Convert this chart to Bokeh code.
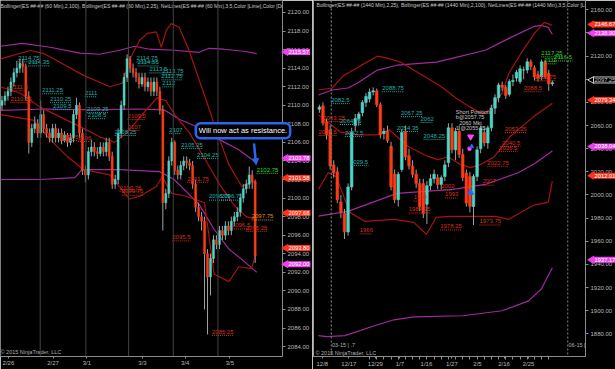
import math
from bokeh.plotting import figure
from bokeh.layouts import row
from bokeh.models import (ColumnDataSource, FixedTicker, Label, Span, Range1d,
                          PrintfTickFormatter, Arrow, NormalHead)
from bokeh.embed import file_html
from bokeh.resources import INLINE
from bokeh.core.properties import value

# ---------------- data: left panel (60 min bars) ----------------
L_OPEN = [2110,2110.5,2111,2111.5,2112.5,2113.5,2114,2114.5,2114.2,2111,
          2106,2107.5,2108,2107,2109,2107.5,2107,2106.5,2107.5,2106.5,
          2107,2106.2,2106.8,2106,2106.5,2109,2110,2107,2103,2102.5,
          2105,2105.5,2105,2104.8,2105.5,2105,2106,2104.5,2101.5,2102,
          2107,2110,2113,2115,2114,2113.5,2113,2112.3,2113,2112,
          2112.5,2111.5,2112.5,2111.5,2109.5,2099.5,2100.5,2104,2106,2103,
          2102.5,2103.5,2104,2103.8,2103.5,2101.5,2099,2098,2097.5,2094,
          2091.5,2093.5,2095.5,2095,2096.5,2096,2097,2096.5,2097.5,2098,
          2098.5,2100,2101,2101.5,2102.5,2101.8]
L_HIGH = [2111,2111.5,2112,2113,2114,2114.8,2115,2115,2114.5,2111.5,
          2108,2108.8,2108.5,2110.5,2109.5,2108,2107.5,2108,2108,2107.5,
          2107.5,2107.2,2107,2107,2109.5,2110.8,2110.3,2107.5,2103.5,2105.5,
          2106.3,2106,2105.5,2106,2106,2106.5,2106.5,2105,2102.5,2107.5,
          2110.5,2113.5,2115.5,2115.3,2114.5,2114,2113.5,2113.5,2113.5,2113,
          2113,2113,2113,2112,2110,2101,2104.5,2106.5,2106.2,2103.5,
          2104,2104.5,2104.5,2104.2,2104,2102,2099.5,2098.5,2098,2094.5,
          2094,2096,2096,2097,2097,2097.5,2097.5,2098,2098.5,2099,
          2100.5,2101.5,2102,2103.4,2103,2102]
L_LOW = [2109.5,2110,2110.5,2111,2112,2113,2113.5,2113.5,2110.5,2104.8,
         2105.5,2107,2106.5,2106.5,2107,2106.5,2106,2106,2106,2106,
         2105.8,2106,2105.5,2105.7,2106,2108.5,2106.5,2102.5,2101.7,2102,
         2104.5,2104.5,2104.2,2104.5,2104.5,2104.5,2104,2101,2101,2101.5,
         2106.5,2109.5,2112.5,2113.5,2113,2112.5,2111.8,2112,2111.5,2111.5,
         2111,2111,2111,2109,2096.5,2098.8,2100,2103.5,2102.5,2102,
         2102,2103,2103.2,2103,2101,2098.5,2097.5,2096.5,2088,2085.3,
         2089.5,2093,2094.5,2094.5,2095.5,2095.5,2096,2096,2097,2097.5,
         2098,2099.5,2100.5,2101,2101,2093]
L_CLOSE = [2110.5,2111,2111.5,2112.5,2113.5,2114,2114.5,2114.2,2111,2106,
           2107.5,2108,2107,2109,2107.5,2107,2106.5,2107.5,2106.5,2107,
           2106.2,2106.8,2106,2106.5,2109,2110,2107,2103,2102.5,2105,
           2105.5,2105,2104.8,2105.5,2105,2106,2104.5,2101.5,2102,2107,
           2110,2113,2115,2114,2113.5,2113,2112.3,2113,2112,2112.5,
           2111.5,2112.5,2111.5,2109.5,2099.5,2100.5,2104,2106,2103,2102.5,
           2103.5,2104,2103.8,2103.5,2101.5,2099,2098,2097.5,2094,2091.5,
           2093.5,2095.5,2095,2096.5,2096,2097,2096.5,2097.5,2098,2098.5,
           2100,2101,2101.5,2102.5,2101.8,2093.8]

L_BB100_UP_X = [-0.5,6.83,16.17,26.17,32.83,39.5,44.5,49.5,57.83,66.17,69.5,74.5,81.17,85.5]
L_BB100_UP_Y = [2116.36,2116.68,2116.25,2115.61,2115.5,2115.93,2116.36,2116.04,2115.93,2115.71,2116.14,2116.04,2115.82,2115.57]
L_BB100_MID_X = [-0.5,15,30,45,54.5,59.5,66,73,79.5,85.5]
L_BB100_MID_Y = [2109.45,2109.6,2109.5,2109.6,2109.5,2108.5,2107.6,2106.3,2105.2,2103.78]
L_BB100_LO_X = [-0.5,12.8,24.5,26.8,39.5,52.8,57.8,66.2,71.2,76.2,81.2,85.5]
L_BB100_LO_Y = [2102.0,2102.0,2102.2,2103.07,2103.07,2102.86,2102.0,2099.32,2096.64,2094.5,2093.21,2092.0]

L_BB25_UP_X = [-0.5,9.5,13.8,16.2,27.2,36.2,40.5,42.8,46.2,48.8,51.8,53.5,55.2,56.8,59.5,62.8,68.5,71.8,76.2,80.5,83.8,85.5]
L_BB25_UP_Y = [2115.0,2115.9,2115.6,2115.2,2113.25,2112.0,2112.4,2114.9,2117.0,2117.75,2117.9,2116.25,2118.1,2118.8,2118.4,2115.9,2110.6,2107.4,2103.6,2101.25,2101.8,2101.58]
L_BB25_MID_X = [-0.5,6.2,12.8,19.5,26.2,32.8,37.8,41.8,46,52,55,58,63,68.5,73,78,82,85.5]
L_BB25_MID_Y = [2112.0,2111.3,2109.8,2108.75,2107.7,2106.6,2106.0,2107.0,2108.6,2110.8,2110.5,2109.0,2107.0,2104.0,2101.5,2099.2,2098.0,2097.68]
L_BB25_LO_X = [-0.5,10.5,16.2,21.8,27.2,36.2,42.8,46.2,51.8,53.8,57,61.8,68,71.2,76.2,79.5,83.8,85,85.5]
L_BB25_LO_Y = [2109.0,2108.4,2106.3,2104.5,2103.1,2102.5,2099.9,2100.2,2101.25,2102.3,2100.5,2100.2,2099.5,2091.8,2091.0,2092.6,2092.4,2093.8,2093.8]

L_SESSIONS = [12.83, 28.17, 42.5, 57.5, 72.5]
L_DATE_POS = [2.17, 17.17, 28.5, 47.17, 61.5, 76.5]
L_DATE_LBL = ["2/26", "2/27", "3/1", "3/3", "3/4", "3/5"]

L_TEAL_T = ["2114.75","2114.35","2111.25","2111","2110.25","2109.5","2109.25","2108.5",
            "2114.75","2114.55","2113.5","2113.75","2112.75","2112","2107","2105.25",
            "2104.25","2108.25","2098.75","2096.75"]
L_TEAL_X = [5.5,8.83,13.5,27.83,16.17,17.17,28.5,28.83,45.17,45.5,49.5,53.83,53.5,53.83,
            56.17,60.17,65.5,37.83,69.5,73.5]
L_TEAL_Y = [2115.07,2114.64,2111.64,2111.32,2110.68,2109.93,2109.61,2108.96,2115.07,2114.64,
            2113.89,2113.68,2113.14,2112.39,2107.36,2105.75,2104.68,2107.14,2100.18,2100.18]
L_RED_T = ["2111.5","2110.25","2109.5","2106.5","2106","2107","2101.75","2100.75","2099.75",
           "2095.5","2096.5","2095.25","2085.25"]
L_RED_X = [2.83,2.83,42.17,19.5,25.5,42.17,62.17,39.5,40.17,57.17,77.17,81.83,70.5]
L_RED_Y = [2111.96,2110.68,2108.86,2106.61,2106.5,2107.68,2102.11,2101.14,2100.71,2095.79,
           2097.07,2096.82,2085.61]
L_ORANGE_T = ["2097.75"]; L_ORANGE_X = [83.83]; L_ORANGE_Y = [2098.04]
L_GREEN_T = ["2102.75"]; L_GREEN_X = [85.5]; L_GREEN_Y = [2103.07]

# ---------------- data: right panel (1440 min bars) ----------------
R_OPEN = [2074,2077,2063,2056,2026,2020,1994,1984,1968,2007,2060,2066,2071,2080,2083,2089,2090,2078,
          2053,2055,2042,2018,1996,2022,2055,2034,2025,2018,2010,2010,1992,2008,2014,2015,2009,2016,
          2028,2058,2039,2055,2035,2019,2016,1990,2016,2040,2054,2045,2058,2075,2084,2095,2093,2087,
          2098,2101,2098,2108,2108,2115,2110,2104,2102,2115,2105,2096]
R_HIGH = [2078,2080,2066,2060,2030,2024,2000,1988,2010,2058,2070,2072,2082,2088,2092,2093,2092,2080,
          2058,2060,2046,2022,2020,2057,2060,2040,2030,2022,2014,2014,2012,2018,2022,2018,2017,2030,
          2062,2062,2058,2060,2040,2022,2020,2018,2042,2060,2058,2060,2078,2087,2097,2098,2095,2100,
          2104,2108,2112,2111,2118,2117,2112,2107,2117,2117,2108,2099]
R_LOW = [2071,2060,2048,2022,2015,1993,1980,1962,1965,2004,2055,2060,2068,2076,2080,2086,2076,2049,
         2048,2045,2004,1993,1990,2020,2030,2022,2015,2006,1986,1980,1975,2004,2010,2005,2005,2012,
         2024,2036,2030,2032,2012,1990,1985,1974,2012,2036,2042,2040,2055,2070,2080,2090,2083,2085,
         2094,2098,2096,2100,2105,2108,2099,2098,2099,2100,2090,2094]
R_CLOSE = [2076,2062,2052,2025,2019,1996,1985,1968,2007,2054,2066,2070,2080,2085,2089,2090,2078,2052,
           2055,2047,2007,1996,2018,2054,2033,2025,2018,2010,1990,1984,2008,2014,2018,2009,2015,2026,
           2058,2039,2055,2035,2015,1993,1990,2016,2039,2058,2045,2058,2075,2084,2095,2093,2086,2098,
           2099,2106,2109,2108,2115,2111,2102,2101,2115,2102,2096,2097]

R_BB100_UP_X = [-0.27,3.56,7.95,10.68,16.16,21.64,32.6,37.26,46.3,52.88,60.0,61.92,63.84,65]
R_BB100_UP_Y = [2086.4,2090.7,2092.4,2096.7,2107.9,2112.1,2114.7,2118.2,2125.0,2135.3,2145.7,2146.5,2144.8,2138.9]
R_BB100_MID_X = [-0.27,7.95,21.64,37.26,46.3,55.6,60,65]
R_BB100_MID_Y = [1981.7,1985.9,2001.4,2004.8,2009.1,2019.4,2027.0,2038.04]
R_BB100_LO_X = [-0.27,2.19,7.12,14.52,20.82,26.3,40.0,50.96,58.36,61.92,65]
R_BB100_LO_Y = [1878.5,1877.6,1878.5,1886.2,1892.2,1894.8,1895.7,1900.0,1908.5,1918.8,1937.17]

R_BB25_UP_X = [-0.27,3.56,6.58,11.23,16.16,18.9,22.74,26.3,30.96,34.52,38.08,41.92,45.48,47.4,50.96,52.88,56.44,60,62.74,65]
R_BB25_UP_Y = [2090.7,2092.4,2102.7,2111.3,2119.9,2118.2,2114.7,2107.9,2099.3,2092.4,2083.8,2076.1,2070.1,2073.4,2088.0,2105.2,2123.3,2139.6,2149.1,2146.67]
R_BB25_MID_X = [-0.27,5.75,10.41,15.89,19.45,24.93,30.41,33.15,35.89,39.45,42.19,44.93,48.77,53.15,59.73,65]
R_BB25_MID_Y = [2069.2,2054.6,2052.0,2052.0,2056.3,2041.7,2033.1,2030.5,2033.0,2026.2,2023.7,2026.2,2033.1,2050.3,2067.5,2079.34]
R_BB25_LO_X = [-0.27,2.47,4.66,6.58,8.49,12.6,20.82,26.3,29.86,32.6,36.44,44.11,49.04,52.88,55.07,60,63.84,65]
R_BB25_LO_Y = [2004.8,2019.4,2016.0,2000.5,1985.0,1977.3,1979.0,1976.4,1966.1,1980.7,1981.6,1981.6,1981.6,1979.0,1983.0,1991.5,1993.6,2012.01]

R_ROLLOVER = [3.3, 69.3]
R_DATE_POS = [0.82, 8.22, 15.62, 22.47, 29.86, 36.99, 44.11, 51.51, 58.36]
R_DATE_LBL = ["12/8", "12/17", "12/29", "1/7", "1/16", "1/27", "2/5", "2/16", "2/25"]

R_TEAL_T = ["2082.5","2064.75","2088.75","2067.25","2062","2054.35","2052.5","2048.25","2029.5"]
R_TEAL_X = [3.29,5.75,17.53,22.74,28.22,21.64,7.12,29.04,8.49]
R_TEAL_Y = [2082.1,2064.1,2092.4,2070.9,2065.8,2058.0,2053.8,2051.2,2028.8]
R_RED_T = ["2063.25","2029.5","1966","1994","1984.25","1978.25","1973.75","2007","2002","1993",
           "2022.75","2040.5","2036.5","2053.25","2088.5","2101.75"]
R_RED_X = [1.10,-0.27,11.23,26.30,24.93,33.70,44.66,45.48,33.97,35.07,46.85,50.96,50.14,51.78,56.99,60.0]
R_RED_Y = [2066.6,2054.6,1969.6,1997.9,1987.6,1973.0,1977.3,2011.7,2007.4,2000.5,2028.0,2045.2,
           2040.9,2057.2,2092.4,2101.9]
R_GREEN_T = ["2117.25","2116.5","2111"]
R_GREEN_X = [61.92,65.48,62.74]
R_GREEN_Y = [2122.5,2119.0,2116.5]
R_LAST = 2097.25

# ---------------- style ----------------
FONT = "Liberation Sans"
UP, DN, WICK = "#4FD6C8", "#FF3A14", "#A0A0A0"
C_BB25, C_BB100 = "#A81212", "#A02AA0"
TEAL, RED, GREEN, ORANGE = "#22AFA8", "#D8301A", "#2BD62B", "#E88A2C"
MAG_BOX, RED_BOX = "#F040F0", "#FF3418"
AXC, AXL = "#B8B8B8", "#8C8C8C"
BLUE = "#2A66F0"


def make_fig(width, xr, yr, border_left, border_right):
    p = figure(width=width, height=369, x_range=Range1d(*xr), y_range=Range1d(*yr),
               output_backend="svg", toolbar_location=None, y_axis_location="right",
               min_border_left=border_left, min_border_right=border_right,
               min_border_top=0, min_border_bottom=11,
               background_fill_color="black", border_fill_color="black",
               outline_line_color=None)
    p.xgrid.visible = False
    p.ygrid.visible = False
    for ax in (p.xaxis[0], p.yaxis[0]):
        ax.axis_line_color = AXL
        ax.major_tick_line_color = AXL
        ax.minor_tick_line_color = AXL
        ax.major_label_text_color = AXC
        ax.major_label_text_font = FONT
        ax.major_label_text_font_size = "6px"
        ax.major_tick_in = 0
        ax.major_tick_out = 3
        ax.minor_tick_in = 0
        ax.minor_tick_out = 0
        ax.major_label_standoff = 2
    p.xaxis[0].major_label_standoff = 1
    p.xaxis[0].major_tick_out = 2
    p.yaxis[0].formatter = PrintfTickFormatter(format="%.2f")
    return p


def add_candles(p, o, h, l, c, width):
    x = list(range(len(c)))
    src = ColumnDataSource(dict(
        x=x, h=h, l=l,
        top=[max(a, b) for a, b in zip(o, c)],
        bot=[min(a, b) for a, b in zip(o, c)],
        col=[UP if b >= a else DN for a, b in zip(o, c)]))
    p.segment("x", "h", "x", "l", source=src, line_color=WICK, line_width=1)
    p.vbar(x="x", width=width, top="top", bottom="bot", fill_color="col",
           line_color="col", line_width=0.6, source=src)


def add_net(p, texts, xs, ys, color, cw, dy):
    src = ColumnDataSource(dict(x=xs, y=ys, t=texts,
                                x1=[x + len(t) * cw for x, t in zip(xs, texts)],
                                yu=[y - dy for y in ys]))
    p.segment(x0="x", y0="yu", x1="x1", y1="yu", line_color=color, line_dash="1 1",
              line_width=1, source=src)
    p.text(x="x", y="y", text="t", text_color=color, text_font=value(FONT),
           text_font_size="6px", text_baseline="middle", source=src)


# ---------------- left panel ----------------
L = make_fig(312, (-0.5, 94.17), (2082.93, 2121.29), 0, 28)
L.yaxis[0].ticker = FixedTicker(ticks=list(range(2084, 2121, 2)))
L.xaxis[0].ticker = FixedTicker(ticks=L_DATE_POS)
L.xaxis[0].major_label_overrides = {k: v for k, v in zip(L_DATE_POS, L_DATE_LBL)}
for s in L_SESSIONS:
    L.add_layout(Span(location=s, dimension="height", line_color="#444444", line_width=1))

L.line(L_BB100_UP_X, L_BB100_UP_Y, line_color=C_BB100, line_width=1.2)
L.line(L_BB100_MID_X, L_BB100_MID_Y, line_color=C_BB100, line_width=1.2)
L.line(L_BB100_LO_X, L_BB100_LO_Y, line_color=C_BB100, line_width=1.2)
L.line(L_BB25_UP_X, L_BB25_UP_Y, line_color=C_BB25, line_width=1.2)
L.line(L_BB25_MID_X, L_BB25_MID_Y, line_color=C_BB25, line_width=1.2)
L.line(L_BB25_LO_X, L_BB25_LO_Y, line_color=C_BB25, line_width=1.2)
add_candles(L, L_OPEN, L_HIGH, L_LOW, L_CLOSE, 0.62)

add_net(L, L_TEAL_T, L_TEAL_X, L_TEAL_Y, TEAL, 1.02, 0.4)
add_net(L, L_RED_T, L_RED_X, L_RED_Y, RED, 1.02, 0.4)
add_net(L, L_ORANGE_T, L_ORANGE_X, L_ORANGE_Y, ORANGE, 1.02, 0.4)
add_net(L, L_GREEN_T, L_GREEN_X, L_GREEN_Y, GREEN, 1.02, 0.4)

L.text(x=[-0.5], y=[2120.75],
       text=["Bollinger(ES ##-## (60 Min),2,100), Bollinger(ES ##-## (60 Min),2,25), "
             "NetLines(ES ##-## (60 Min),3,5,Color [Lime],Color [Dr"],
       text_color="#C8C8C8", text_font=value(FONT), text_font_size="5.1px",
       text_baseline="middle")
L.text(x=[-0.5], y=[2083.4], text=["\u00a9 2015 NinjaTrader, LLC"], text_color="#B0B0B0",
       text_font=value(FONT), text_font_size="5.5px", text_baseline="middle")
L.add_layout(Arrow(end=NormalHead(size=6, fill_color=BLUE, line_color=BLUE),
                   x_start=84.6, y_start=2105.9, x_end=85.3, y_end=2103.6,
                   line_color=BLUE, line_width=2.5))

# ---------------- right panel ----------------
R = make_fig(303, (-1.644, 74.25), (1860.5, 2168.0), 1, 25)
R.outline_line_color = "#9A9A9A"
R.yaxis[0].ticker = FixedTicker(ticks=list(range(1880, 2161, 20)))
R.xaxis[0].ticker = FixedTicker(ticks=R_DATE_POS, minor_ticks=list(range(14, 66, 2)))
R.xaxis[0].minor_tick_out = 3
R.xaxis[0].major_label_overrides = {k: v for k, v in zip(R_DATE_POS, R_DATE_LBL)}
for s in R_ROLLOVER:
    R.add_layout(Span(location=s, dimension="height", line_color="#8A8A8A",
                      line_width=1, line_dash="2 2"))

R.line(R_BB100_UP_X, R_BB100_UP_Y, line_color=C_BB100, line_width=1.2)
R.line(R_BB100_MID_X, R_BB100_MID_Y, line_color=C_BB100, line_width=1.2)
R.line(R_BB100_LO_X, R_BB100_LO_Y, line_color=C_BB100, line_width=1.2)
R.line(R_BB25_UP_X, R_BB25_UP_Y, line_color=C_BB25, line_width=1.2)
R.line(R_BB25_MID_X, R_BB25_MID_Y, line_color=C_BB25, line_width=1.2)
R.line(R_BB25_LO_X, R_BB25_LO_Y, line_color=C_BB25, line_width=1.2)
add_candles(R, R_OPEN, R_HIGH, R_LOW, R_CLOSE, 0.72)

add_net(R, R_TEAL_T, R_TEAL_X, R_TEAL_Y, TEAL, 0.86, 3.2)
add_net(R, R_RED_T, R_RED_X, R_RED_Y, RED, 0.86, 3.2)
add_net(R, R_GREEN_T, R_GREEN_X, R_GREEN_Y, GREEN, 0.86, 3.2)

R.text(x=[38.08, 38.08, 39.0, 38.08], y=[2071.8, 2067.5, 2062.3, 2057.6],
       text=["Short Position", "b@2057.75", "2060 Mkt", "1 @2055.25"],
       text_color="#C8C8C8", text_font=value(FONT), text_font_size="5.5px",
       text_baseline="middle")
R.scatter(x=[42.2], y=[2050.3], marker="inverted_triangle", size=6, color="#FF44FF")
R.scatter(x=[41.9], y=[2040.0], marker="square", size=3, color="#FF44FF")
R.scatter(x=[42.5], y=[2042.0], marker="triangle", size=4, color=BLUE)
R.scatter(x=[42.2], y=[2002.2], marker="triangle", size=6, color=BLUE)

R.text(x=[-0.8], y=[2163.7],
       text=["Bollinger(ES ##-## (1440 Min),2,25), Bollinger(ES ##-## (1440 Min),2,100), "
             "NetLines(ES ##-## (1440 Min),3,5,Color [Lin"],
       text_color="#C8C8C8", text_font=value(FONT), text_font_size="5.1px",
       text_baseline="middle")
R.text(x=[-1.1], y=[1863.9], text=["\u00a9 2015 NinjaTrader, LLC"], text_color="#B0B0B0",
       text_font=value(FONT), text_font_size="5.5px", text_baseline="middle")
R.text(x=[3.5, 69.5], y=[1870.8, 1870.8], text=["03-15 | .7", "06-15 |"],
       text_color="#B0B0B0", text_font=value(FONT), text_font_size="5.5px",
       text_baseline="middle")

# ---------------- transparent overlay: axis price boxes and call-out ----------------
OV = figure(width=615, height=369, x_range=Range1d(-0.5, 204.5),
            y_range=Range1d(2081.75, 2121.286), output_backend="svg",
            toolbar_location=None, x_axis_type=None, y_axis_type=None,
            min_border_left=0, min_border_right=0, min_border_top=0, min_border_bottom=0,
            background_fill_alpha=0, border_fill_alpha=0, outline_line_color=None,
            styles={"position": "absolute", "left": "0px", "top": "0px",
                    "pointer-events": "none", "z-index": "10"})
OV.extra_x_ranges = {"r": Range1d(-87.397, 81.096)}
OV.extra_y_ranges = {"r": Range1d(1851.07, 2168.0)}
OV.grid.visible = False


def price_box(v, bg, rng, xp, xt, tc="white", border=None):
    kw = {} if rng == "default" else dict(x_range_name="r", y_range_name="r")
    OV.scatter(x=[xp], y=[v], marker="triangle", angle=math.pi / 2, size=7,
               fill_color=bg, line_color=bg if border is None else border, **kw)
    OV.add_layout(Label(x=xt, y=v, text=f"{v:.2f}", text_color=tc, text_font=FONT,
                        text_font_size="5.8px", text_baseline="middle", text_align="left",
                        background_fill_color=bg, border_line_color=border, padding=1,
                        **kw))


for v, bg in [(L_BB100_UP_Y[-1], MAG_BOX), (L_BB100_MID_Y[-1], MAG_BOX),
              (L_BB25_UP_Y[-1], RED_BOX), (L_BB25_MID_Y[-1], RED_BOX),
              (L_BB25_LO_Y[-1], RED_BOX), (L_BB100_LO_Y[-1], MAG_BOX)]:
    price_box(v, bg, "default", 94.6, 95.17)

for v, bg in [(R_BB25_UP_Y[-1], RED_BOX), (R_BB100_UP_Y[-1], MAG_BOX),
              (R_BB25_MID_Y[-1], RED_BOX), (R_BB100_MID_Y[-1], MAG_BOX),
              (R_BB25_LO_Y[-1], RED_BOX), (R_BB100_LO_Y[-1], MAG_BOX)]:
    price_box(v, bg, "r", 74.6, 75.07)
price_box(R_LAST, "black", "r", 74.6, 75.07, tc="#C8C8C8", border="#C8C8C8")

OV.add_layout(Label(x=64.6, y=2106.82, text="Will now act as resistance.", text_color="white",
                    text_font=FONT, text_font_size="7.5px", text_baseline="middle",
                    background_fill_color="black", border_line_color=BLUE,
                    border_line_width=2.5, padding=3, border_radius=5))

layout = row(L, R, OV)
open("out.html", "w").write(file_html(layout, INLINE))
